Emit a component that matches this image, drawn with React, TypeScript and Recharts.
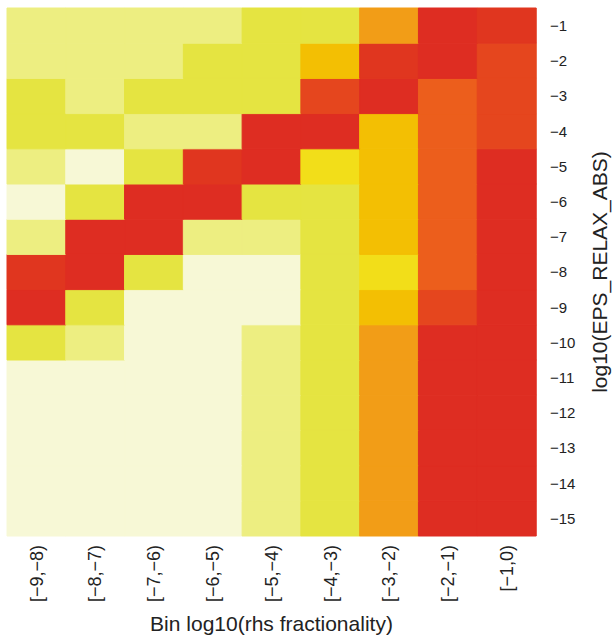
import { BarChart, Bar, Cell, XAxis, YAxis } from "recharts";

const bins = ["[−9,−8)", "[−8,−7)", "[−7,−6)", "[−6,−5)", "[−5,−4)", "[−4,−3)", "[−3,−2)", "[−2,−1)", "[−1,0)"];
const epsLevels = [-1, -2, -3, -4, -5, -6, -7, -8, -9, -10, -11, -12, -13, -14, -15];

// heat level per cell, one row per eps level (top row = -1), one entry per bin
const row1 = [1, 1, 1, 1, 2, 2, 5, 9, 8];
const row2 = [1, 1, 1, 2, 2, 4, 8, 9, 7];
const row3 = [2, 1, 2, 2, 2, 7, 9, 6, 7];
const row4 = [2, 2, 1, 1, 9, 9, 4, 6, 7];
const row5 = [1, 0, 2, 8, 9, 3, 4, 6, 9];
const row6 = [0, 2, 9, 9, 2, 2, 4, 6, 9];
const row7 = [1, 9, 9, 1, 1, 2, 4, 6, 9];
const row8 = [8, 9, 2, 0, 0, 2, 3, 6, 9];
const row9 = [9, 2, 0, 0, 0, 2, 4, 7, 9];
const row10 = [2, 1, 0, 0, 1, 2, 5, 9, 9];
const row11 = [0, 0, 0, 0, 1, 2, 5, 9, 9];
const row12 = [0, 0, 0, 0, 1, 2, 5, 9, 9];
const row13 = [0, 0, 0, 0, 1, 2, 5, 9, 9];
const row14 = [0, 0, 0, 0, 1, 2, 5, 9, 9];
const row15 = [0, 0, 0, 0, 1, 2, 5, 9, 9];
const grid = [row1, row2, row3, row4, row5, row6, row7, row8, row9, row10, row11, row12, row13, row14, row15];

const palette = [
  "#F7F8D6", "#EDEE81", "#E5E441", "#F2DE19", "#F3BF03",
  "#F29D17", "#EC5E1C", "#E5461E", "#E0361F", "#DE2D22",
];

const data = bins.map((bin) => {
  const d: Record<string, string | number> = { bin };
  epsLevels.forEach((_, r) => { d["r" + r] = 1; });
  return d;
});

// stack from the bottom row (-15) upward
const stackOrder = epsLevels.map((_, r) => r).reverse();
const yTicks = epsLevels.map((_, i) => i + 0.5);

const font = "'Liberation Sans', Arial, sans-serif";
const ink = "#222";

function BinTick({ x, y, payload }: any) {
  return (
    <text x={x} y={y} dy="0.35em" textAnchor="end" transform={`rotate(-90, ${x}, ${y})`}
      fontSize={18} fontFamily={font} fill={ink}>
      {payload.value}
    </text>
  );
}

export default function App() {
  return (
    <div style={{ position: "absolute", left: 0, top: 0 }}>
      <BarChart width={612} height={637} data={data} barCategoryGap={0} barGap={0}
        margin={{ top: 8, left: 7, right: 0, bottom: 0 }}>
        <XAxis dataKey="bin" height={101} tickLine={false} axisLine={false} tickSize={0} tickMargin={9}
          interval={0} tick={<BinTick />}
          label={{
            content: ({ viewBox }: any) => (
              <text x={viewBox.x + viewBox.width / 2} y={viewBox.y + 95} textAnchor="middle"
                fontSize={21} fontFamily={font} fill={ink}>Bin log10(rhs fractionality)</text>
            ),
          }} />
        <YAxis orientation="right" type="number" domain={[0, 15]} ticks={yTicks} width={76}
          tickLine={false} axisLine={false} tickSize={0} tickMargin={14}
          tick={{ fontSize: 15, fontFamily: font, fill: ink }}
          tickFormatter={(v: number) => `−${Math.round(15.5 - v)}`}
          label={{
            content: ({ viewBox }: any) => {
              const lx = viewBox.x + 64;
              const ly = viewBox.y + viewBox.height / 2;
              return (
                <text x={lx} y={ly} dy="0.35em" textAnchor="middle" transform={`rotate(-90, ${lx}, ${ly})`}
                  fontSize={21} fontFamily={font} fill={ink}>log10(EPS_RELAX_ABS)</text>
              );
            },
          }} />
        {stackOrder.map((r) => (
          <Bar key={r} dataKey={"r" + r} stackId="a" isAnimationActive={false}>
            {bins.map((b, c) => (
              <Cell key={b} fill={palette[grid[r][c]]} stroke={palette[grid[r][c]]} strokeWidth={1} />
            ))}
          </Bar>
        ))}
      </BarChart>
    </div>
  );
}
